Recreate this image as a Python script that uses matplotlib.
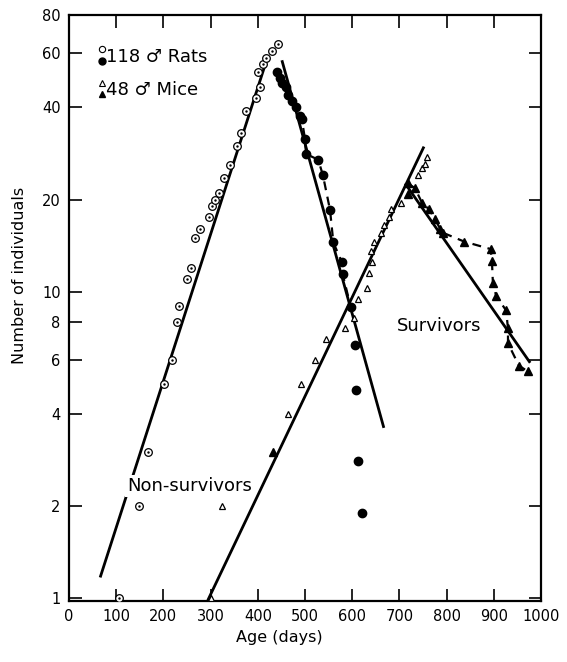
import matplotlib.pyplot as plt

plt.rcParams['font.family'] = ['DejaVu Sans']

# rats, rising phase (non-survivors), open circles
rat_rise_age = [105, 148, 167, 201, 218, 229, 233, 250, 258, 267, 278, 297, 303,
                309, 318, 328, 341, 356, 364, 375, 397, 400, 405, 411, 417, 430, 443]
rat_rise_n = [1, 2, 3, 5, 6, 8, 9, 11, 12, 15, 16, 17.5, 19,
              20, 21, 23.5, 26, 30, 33, 38.8, 43, 52, 46.5, 55.5, 58, 61, 64.5]

# rats, falling phase (survivors), filled circles joined by dashes
rat_fall_age = [441, 447, 452, 460, 464, 472, 481, 489, 493, 500, 502, 528, 538,
                553, 560, 578, 580, 597]
rat_fall_n = [52, 50, 48, 46.5, 44, 42, 40, 37.6, 36.8, 31.5, 28.2, 27, 24,
              18.5, 14.5, 12.5, 11.4, 8.9]
# last filled circles, not joined
rat_tail_age = [606, 609, 612, 621]
rat_tail_n = [6.7, 4.8, 2.8, 1.9]

# mice, rising phase, open triangles
mouse_rise_age = [300, 325, 464, 491, 521, 545, 584, 604, 612, 631, 636, 640, 642,
                  646, 661, 667, 678, 682, 703, 739, 748, 754, 758]
mouse_rise_n = [1, 2, 4, 5, 6, 7, 7.6, 8.2, 9.5, 10.3, 11.5, 13.6, 12.5,
                14.5, 15.6, 16.5, 17.5, 18.6, 19.5, 24, 25.3, 26.2, 27.6]
mouse_rise_filled_age = [432, 718]
mouse_rise_filled_n = [3, 20.8]

# mice, falling phase (survivors), filled triangles joined by dashes
mouse_fall_age = [718, 733, 748, 763, 775, 786, 792, 837, 893, 896, 898, 905,
                  926, 930, 930, 953, 972]
mouse_fall_n = [22.6, 21.8, 19.5, 18.6, 17.3, 16.1, 15.6, 14.6, 13.8, 12.6, 10.7, 9.7,
                8.7, 7.6, 6.8, 5.75, 5.5]

# fitted lines (end points)
rat_rise_fit_age = [66, 417]
rat_rise_fit_n = [1.17, 56]
rat_fall_fit_age = [451, 667]
rat_fall_fit_n = [57, 3.6]
mouse_rise_fit_age = [294, 752]
mouse_rise_fit_n = [0.985, 29.8]
mouse_fall_fit_age = [712, 977]
mouse_fall_fit_n = [22.6, 5.87]

x_ticks = [0, 100, 200, 300, 400, 500, 600, 700, 800, 900, 1000]
y_ticks = [1, 2, 4, 6, 8, 10, 20, 40, 60, 80]

fig = plt.figure(figsize=(5.67, 6.62), dpi=100)
ax = fig.add_axes([0.1217, 0.0921, 0.8325, 0.885])
ax.set_yscale('log')

fit_kw = dict(color='black', linewidth=2.0, solid_capstyle='butt', zorder=2)
ax.plot(rat_rise_fit_age, rat_rise_fit_n, **fit_kw)
ax.plot(rat_fall_fit_age, rat_fall_fit_n, **fit_kw)
ax.plot(mouse_rise_fit_age, mouse_rise_fit_n, **fit_kw)
ax.plot(mouse_fall_fit_age, mouse_fall_fit_n, **fit_kw)

ax.plot(rat_fall_age, rat_fall_n, color='black', linewidth=1.6,
        linestyle=(0, (4, 3)), zorder=2)
ax.plot(mouse_fall_age, mouse_fall_n, color='black', linewidth=1.6,
        linestyle=(0, (4, 3)), zorder=2)

ax.plot(rat_rise_age, rat_rise_n, 'o', ms=5.5, mfc='white', mec='black', mew=0.9, zorder=3)
ax.plot(rat_rise_age, rat_rise_n, '.', ms=1.5, color='black', zorder=3)
ax.plot(rat_fall_age, rat_fall_n, 'o', ms=6, color='black', zorder=3)
ax.plot(rat_tail_age, rat_tail_n, 'o', ms=6, color='black', zorder=3)

ax.plot(mouse_rise_age, mouse_rise_n, '^', ms=5, mfc='white', mec='black', mew=0.9, zorder=3)
ax.plot(mouse_rise_filled_age, mouse_rise_filled_n, '^', ms=5.5, color='black', zorder=3)
ax.plot(mouse_fall_age, mouse_fall_n, '^', ms=5.5, color='black', zorder=3)

# legend drawn by hand: open symbol stacked above filled symbol
ax.plot([0.07], [0.942], 'o', ms=4.5, mfc='white', mec='black', mew=0.8,
        transform=ax.transAxes)
ax.plot([0.07], [0.922], 'o', ms=5, color='black', transform=ax.transAxes)
ax.text(0.078, 0.929, '118 \u2642 Rats', transform=ax.transAxes, fontsize=13,
        va='center', ha='left')
ax.plot([0.07], [0.884], '^', ms=4, mfc='white', mec='black', mew=0.8,
        transform=ax.transAxes)
ax.plot([0.07], [0.866], '^', ms=4.5, color='black', transform=ax.transAxes)
ax.text(0.078, 0.873, '48 \u2642 Mice', transform=ax.transAxes, fontsize=13,
        va='center', ha='left')

ax.text(256, 2.33, 'Non-survivors', fontsize=13, ha='center', va='center', zorder=4,
        bbox=dict(facecolor='white', edgecolor='none', pad=1.5))
ax.text(784, 7.76, 'Survivors', fontsize=13, ha='center', va='center', zorder=4,
        bbox=dict(facecolor='white', edgecolor='none', pad=1.5))

ax.set_xlim(0, 1000)
ax.set_ylim(0.98, 80)
ax.set_xticks(x_ticks)
ax.set_xticklabels([str(v) for v in x_ticks])
ax.set_yticks(y_ticks)
ax.set_yticklabels([str(v) for v in y_ticks])
ax.minorticks_off()
ax.tick_params(direction='in', length=9, width=1.2, top=True, right=True,
               labelsize=10.5, pad=6)
for spine in ax.spines.values():
    spine.set_linewidth(1.6)

ax.set_xlabel('Age (days)', fontsize=11.5)
ax.set_ylabel('Number of individuals', fontsize=11.5)
ax.xaxis.set_label_coords(0.445, -0.049)
ax.yaxis.set_label_coords(-0.088, 0.556)

fig.savefig('out.png', dpi=100)
